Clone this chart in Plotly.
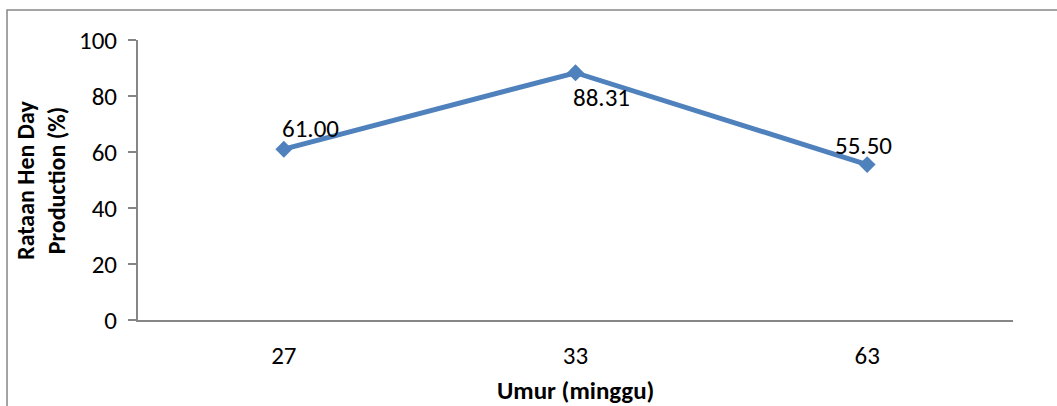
import plotly.graph_objects as go

umur = ["27", "33", "63"]
hdp = [61.00, 88.31, 55.50]
label_text = ["61.00", "88.31", "55.50"]

# pixel offsets of the data labels from their points (as placed in the original)
label_shift = [(27, 21), (26, -25), (-4, 19)]

font_name = "Carlito, Lato, sans-serif"
axis_gray = "#868686"

fig = go.Figure()
fig.add_trace(go.Scatter(
    x=umur, y=hdp,
    mode="lines+markers",
    line=dict(color="#4F81BD", width=5),
    marker=dict(symbol="diamond", size=13, color="#4F81BD"),
    showlegend=False,
))

# category axis: annotations are placed by category index
for i, (yv, t, (dx, dy)) in enumerate(zip(hdp, label_text, label_shift)):
    fig.add_annotation(x=i, y=yv, text=t, showarrow=False,
                       xshift=dx, yshift=dy, font=dict(size=25))

fig.update_layout(
    width=1057, height=406,
    margin=dict(l=138, r=44, t=40, b=86, autoexpand=False),
    plot_bgcolor="white", paper_bgcolor="white",
    font=dict(family=font_name, size=25, color="black"),
)
fig.update_xaxes(
    type="category", range=[-0.5, 2.5], showgrid=False, zeroline=False,
    showline=True, linecolor=axis_gray, linewidth=2,
    ticks="", ticklabelstandoff=12, automargin=False,
)
fig.update_yaxes(
    range=[0, 100], dtick=20, showgrid=False, zeroline=False,
    showline=True, linecolor=axis_gray, linewidth=2,
    ticks="outside", ticklen=8, tickcolor=axis_gray, tickwidth=2,
    ticklabelstandoff=6, automargin=False,
)

# axis titles
fig.add_annotation(
    text="<b>Rataan Hen Day<br>Production (%)</b>",
    xref="paper", yref="paper", x=-0.111, y=0.5, textangle=-90,
    showarrow=False, font=dict(size=24), align="center",
    xanchor="center", yanchor="middle",
)
fig.add_annotation(
    text="<b>Umur (minggu)</b>",
    xref="paper", yref="paper", x=0.5, y=-0.25,
    showarrow=False, font=dict(size=25),
    xanchor="center", yanchor="middle",
)

# chart border (cropped on right and bottom)
fig.add_shape(
    type="rect", xref="paper", yref="paper",
    x0=-0.1497, y0=-0.6, x1=1.2, y1=1.107,
    line=dict(color=axis_gray, width=1.5), layer="below",
)

fig.write_html("out.html", config={"displayModeBar": False},
               post_script="document.body.style.margin='0';")
